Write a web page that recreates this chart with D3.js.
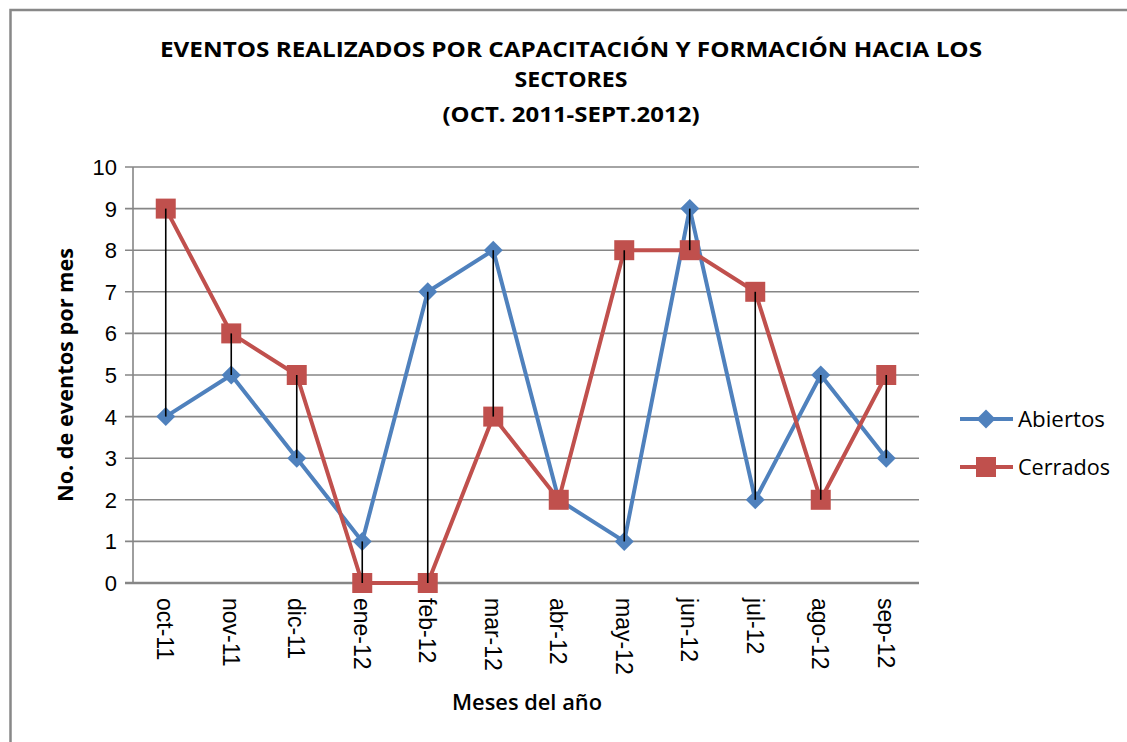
<!DOCTYPE html>
<html>
<head>
<meta charset="utf-8">
<script src="https://cdn.jsdelivr.net/npm/d3@7.9.0/dist/d3.min.js"></script>
<style>
  body { margin: 0; background: #fff; }
  svg { display: block; }
</style>
</head>
<body>
<svg id="chart" width="1127" height="742"></svg>
<script>
const months = ["oct-11", "nov-11", "dic-11", "ene-12", "feb-12", "mar-12",
  "abr-12", "may-12", "jun-12", "jul-12", "ago-12", "sep-12"];
const abiertos = [4, 5, 3, 1, 7, 8, 2, 1, 9, 2, 5, 3];
const cerrados = [9, 6, 5, 0, 0, 4, 2, 8, 8, 7, 2, 5];
const yTicks = [0, 1, 2, 3, 4, 5, 6, 7, 8, 9, 10];
const titleLines = ["EVENTOS REALIZADOS POR CAPACITACIÓN Y FORMACIÓN HACIA LOS",
  "SECTORES", "(OCT. 2011-SEPT.2012)"];

const blue = "#4F81BD";
const red = "#C0504D";
const gridColor = "#868686";
const calibriLike = "'Open Sans', sans-serif";
const tickFont = "'Liberation Sans', Arial, sans-serif";

const svg = d3.select("#chart");

// outer frame (right and bottom run off the picture)
svg.append("rect")
  .attr("x", 10.5).attr("y", 10)
  .attr("width", 1140).attr("height", 760)
  .attr("fill", "none")
  .attr("stroke", "#888")
  .attr("stroke-width", 2.5);

// title
const titleY = [57, 87, 122];
const titleW = [822, 113, 257];
titleLines.forEach((t, i) => {
  svg.append("text")
    .attr("x", 571).attr("y", titleY[i])
    .attr("text-anchor", "middle")
    .attr("font-family", calibriLike)
    .attr("font-weight", "bold")
    .attr("font-size", 22)
    .attr("textLength", titleW[i])
    .attr("lengthAdjust", "spacingAndGlyphs")
    .attr("fill", "#000")
    .text(t);
});

const x = d3.scaleBand().domain(months).range([133, 919]).padding(0);
const y = d3.scaleLinear().domain([0, 10]).range([583, 167]);
const cx = (m) => x(m) + x.bandwidth() / 2;

// grid lines + left ticks
svg.append("g")
  .selectAll("line")
  .data(yTicks)
  .join("line")
  .attr("x1", 125).attr("x2", 919)
  .attr("y1", (d) => y(d)).attr("y2", (d) => y(d))
  .attr("stroke", gridColor)
  .attr("stroke-width", (d) => (d === 0 ? 2.5 : 1.6));

// y axis line
svg.append("line")
  .attr("x1", 133).attr("x2", 133)
  .attr("y1", y(10)).attr("y2", y(0))
  .attr("stroke", gridColor)
  .attr("stroke-width", 1.6);

// y tick labels
svg.append("g")
  .selectAll("text")
  .data(yTicks)
  .join("text")
  .attr("x", 117)
  .attr("y", (d) => y(d))
  .attr("dy", "0.36em")
  .attr("text-anchor", "end")
  .attr("font-family", tickFont)
  .attr("font-size", 22)
  .attr("fill", "#000")
  .text((d) => d);

// x tick labels, rotated 90
svg.append("g")
  .selectAll("text")
  .data(months)
  .join("text")
  .attr("transform", (d) => `translate(${cx(d)},598) rotate(90)`)
  .attr("dy", "0.36em")
  .attr("text-anchor", "start")
  .attr("font-family", tickFont)
  .attr("font-size", 23)
  .attr("fill", "#000")
  .text((d) => d);

// axis titles
svg.append("text")
  .attr("transform", "translate(73,375) rotate(-90)")
  .attr("text-anchor", "middle")
  .attr("font-family", calibriLike)
  .attr("font-weight", "bold")
  .attr("font-size", 21)
  .attr("textLength", 254)
  .attr("lengthAdjust", "spacingAndGlyphs")
  .text("No. de eventos por mes");

svg.append("text")
  .attr("x", 527).attr("y", 710)
  .attr("text-anchor", "middle")
  .attr("font-family", calibriLike)
  .attr("font-weight", "600")
  .attr("font-size", 21)
  .attr("textLength", 150)
  .attr("lengthAdjust", "spacingAndGlyphs")
  .text("Meses del año");

const line = d3.line().x((d, i) => cx(months[i])).y((d) => y(d));
const diamond = d3.symbol().type(d3.symbolSquare).size(180);
const square = d3.symbol().type(d3.symbolSquare).size(400);

// Abiertos series
svg.append("path")
  .datum(abiertos)
  .attr("d", line)
  .attr("fill", "none")
  .attr("stroke", blue)
  .attr("stroke-width", 4)
  .attr("stroke-linejoin", "round");

svg.append("g")
  .selectAll("path")
  .data(abiertos)
  .join("path")
  .attr("d", diamond)
  .attr("transform", (d, i) => `translate(${cx(months[i])},${y(d)}) rotate(45)`)
  .attr("fill", blue);

// Cerrados series
svg.append("path")
  .datum(cerrados)
  .attr("d", line)
  .attr("fill", "none")
  .attr("stroke", red)
  .attr("stroke-width", 4)
  .attr("stroke-linejoin", "round");

svg.append("g")
  .selectAll("path")
  .data(cerrados)
  .join("path")
  .attr("d", square)
  .attr("transform", (d, i) => `translate(${cx(months[i])},${y(d)})`)
  .attr("fill", red);

// high-low lines between the two series
svg.append("g")
  .selectAll("line")
  .data(months)
  .join("line")
  .attr("x1", (d) => cx(d)).attr("x2", (d) => cx(d))
  .attr("y1", (d, i) => y(Math.max(abiertos[i], cerrados[i])))
  .attr("y2", (d, i) => y(Math.min(abiertos[i], cerrados[i])))
  .attr("stroke", "#000")
  .attr("stroke-width", 1.6);

// legend
const legend = [
  { label: "Abiertos", color: blue, sym: diamond, rot: 45, y: 419, w: 87 },
  { label: "Cerrados", color: red, sym: square, rot: 0, y: 467, w: 92 }
];
const lg = svg.append("g");
legend.forEach((d) => {
  lg.append("line")
    .attr("x1", 960).attr("x2", 1013)
    .attr("y1", d.y).attr("y2", d.y)
    .attr("stroke", d.color)
    .attr("stroke-width", 4);
  lg.append("path")
    .attr("d", d.sym)
    .attr("transform", `translate(986,${d.y}) rotate(${d.rot})`)
    .attr("fill", d.color);
  lg.append("text")
    .attr("x", 1018).attr("y", d.y + 8)
    .attr("font-family", calibriLike)
    .attr("font-size", 21)
    .attr("textLength", d.w)
    .attr("lengthAdjust", "spacingAndGlyphs")
    .text(d.label);
});
</script>
</body>
</html>
